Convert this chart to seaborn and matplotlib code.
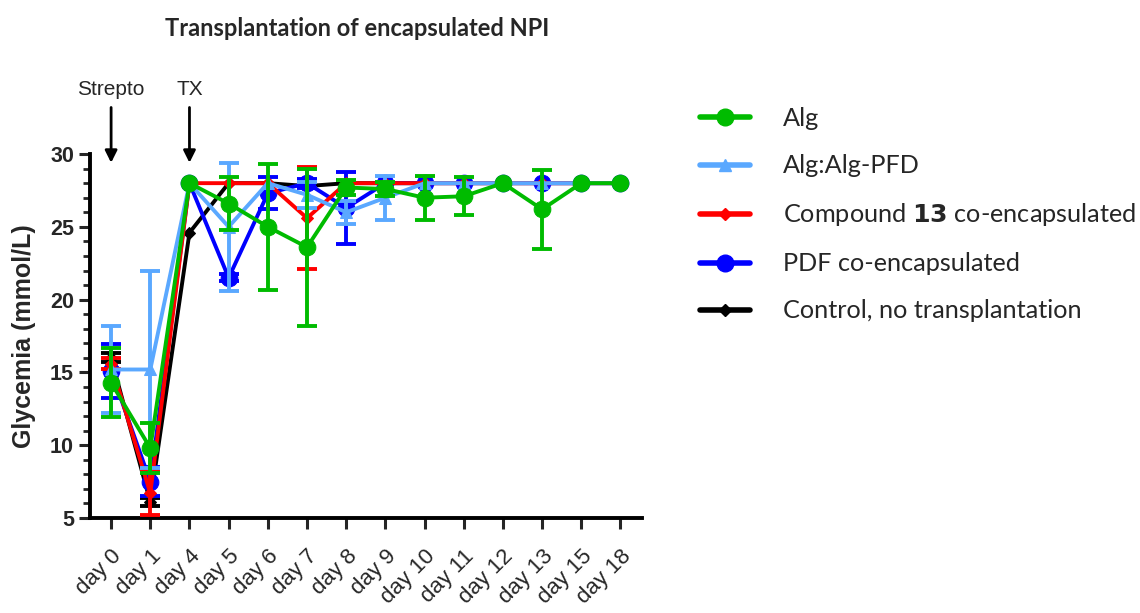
import matplotlib
matplotlib.use("Agg")
import matplotlib.pyplot as plt
from matplotlib.lines import Line2D
from matplotlib.ticker import MultipleLocator
import numpy as np
import pandas as pd
import seaborn as sns

# Sampling days (categorical axis)
days = ["day 0", "day 1", "day 4", "day 5", "day 6", "day 7", "day 8",
        "day 9", "day 10", "day 11", "day 12", "day 13", "day 15", "day 18"]

# Mean glycemia (mmol/L) per group
alg_mean = [14.3, 9.8, 28.0, 26.6, 25.0, 23.6, 27.7, 27.6, 27.0, 27.1, 28.0, 26.2, 28.0, 28.0]
alg_sem = [2.35, 1.7, 0.0, 1.85, 4.35, 5.4, 0.5, 0.5, 1.5, 1.3, 0.0, 2.7, 0.0, 0.0]

pfd_mean = [15.2, 15.2, 28.0, 25.0, 28.0, 27.2, 26.0, 27.0, 28.0, 28.0, 28.0, 28.0, 28.0, 28.0]
pfd_sem = [3.0, 6.8, 0.0, 4.4, 0.0, 0.9, 0.8, 1.5, 0.0, 0.0, 0.0, 0.0, 0.0, 0.0]

cpd_mean = [15.6, 6.7, 28.0, 28.0, 28.0, 25.6, 28.0, 28.0, 28.0, 28.0, 28.0, 28.0, 28.0, 28.0]
cpd_sem = [0.4, 1.5, 0.0, 0.0, 0.0, 3.5, 0.0, 0.0, 0.0, 0.0, 0.0, 0.0, 0.0, 0.0]

pdf_mean = [15.1, 7.5, 28.0, 21.5, 27.3, 28.0, 26.3, 28.0, 28.0, 28.0, 28.0, 28.0, 28.0, 28.0]
pdf_sem = [1.85, 1.0, 0.0, 0.25, 1.1, 0.3, 2.5, 0.0, 0.0, 0.0, 0.0, 0.0, 0.0, 0.0]

ctl_mean = [16.0, 6.1, 24.6, 28.0, 28.0, 27.8, 28.0, 28.0, 28.0, 28.0, 28.0, 28.0, 28.0, 28.0]
ctl_sem = [0.3, 0.3, 0.0, 0.0, 0.0, 0.0, 0.0, 0.0, 0.0, 0.0, 0.0, 0.0, 0.0, 0.0]

# Drawing order: first is at the bottom, last on top
groups = [
    dict(label="Control, no transplantation", mean=ctl_mean, sem=ctl_sem,
         color="#000000", marker="D", ms=6),
    dict(label="PDF co-encapsulated", mean=pdf_mean, sem=pdf_sem,
         color="#0000FF", marker="o", ms=12),
    dict(label=r"Compound $\mathbf{13}$ co-encapsulated", mean=cpd_mean, sem=cpd_sem,
         color="#FF0000", marker="D", ms=6),
    dict(label="Alg:Alg-PFD", mean=pfd_mean, sem=pfd_sem,
         color="#5AA8FF", marker="^", ms=9),
    dict(label="Alg", mean=alg_mean, sem=alg_sem,
         color="#00BB00", marker="o", ms=12),
]

sns.set_theme(style="ticks")
plt.rcParams["font.family"] = ["Liberation Sans", "DejaVu Sans"]

fig = plt.figure(figsize=(11.40, 6.13), dpi=100)
ax = fig.add_axes([0.0789, 0.155, 0.4843, 0.5937])

x = np.arange(len(days))
handles = {}
for z, g in enumerate(groups):
    df = pd.DataFrame({"x": x, "y": g["mean"]})
    sns.lineplot(data=df, x="x", y="y", ax=ax, color=g["color"], lw=2.8,
                 marker=g["marker"], markersize=g["ms"], markeredgecolor=g["color"],
                 zorder=3 + 2 * z, legend=False, errorbar=None)
    err = np.array(g["sem"])
    mask = err > 0
    ax.errorbar(x[mask], np.array(g["mean"])[mask], yerr=err[mask], fmt="none",
                ecolor=g["color"], elinewidth=2.8, capsize=7, capthick=2.8,
                zorder=2 + 2 * z, clip_on=False)
    handles[g["label"]] = Line2D([0], [0], color=g["color"], lw=4,
                                 marker=g["marker"], markersize=g["ms"],
                                 markeredgecolor=g["color"])

ax.set_xlim(-0.54, 13.55)
ax.set_ylim(5, 30)
ax.set_xticks(x)
ax.set_xticklabels(days, rotation=45, ha="right", rotation_mode="anchor",
                   fontsize=16)
ax.yaxis.set_major_locator(MultipleLocator(5))
ax.yaxis.set_minor_locator(MultipleLocator(1))
for lbl in ax.get_yticklabels():
    lbl.set_fontweight("bold")
ax.tick_params(axis="y", labelsize=15.5, width=2.2, length=8, direction="out")
ax.tick_params(axis="y", which="minor", width=2.0, length=5)
ax.tick_params(axis="x", width=2.2, length=8, direction="out", pad=12)
for s in ["top", "right"]:
    ax.spines[s].set_visible(False)
for s in ["left", "bottom"]:
    ax.spines[s].set_linewidth(2.8)
    ax.spines[s].set_color("black")
ax.set_xlabel("")
ax.set_ylabel("Glycemia (mmol/L)", fontsize=18, fontweight="bold", labelpad=10)
ax.set_facecolor("white")

# Treatment markers above the plot
for xpos, txt in [(0, "Strepto"), (2, "TX")]:
    ax.annotate("", xy=(xpos, 29.4), xytext=(xpos, 33.2),
                xycoords="data", textcoords="data", annotation_clip=False,
                arrowprops=dict(arrowstyle="-|>", color="black", lw=2,
                                mutation_scale=18, shrinkA=0, shrinkB=0))
    ax.text(xpos, 34.4, txt, ha="center", va="center", fontsize=15,
            clip_on=False)

fig.text(0.313, 0.954, "Transplantation of encapsulated NPI", ha="center",
         va="center", fontsize=17, fontweight="bold", family=["Lato", "DejaVu Sans"])

order = ["Alg", "Alg:Alg-PFD", r"Compound $\mathbf{13}$ co-encapsulated",
         "PDF co-encapsulated", "Control, no transplantation"]
leg = fig.legend([handles[k] for k in order], order, loc="upper left",
                 bbox_to_anchor=(0.594, 0.862), frameon=False,
                 prop=dict(family=["Lato", "DejaVu Sans"], size=18.2),
                 labelspacing=0.95, handlelength=2.0, handletextpad=1.3)

fig.savefig("out.png", dpi=100, facecolor="white")
